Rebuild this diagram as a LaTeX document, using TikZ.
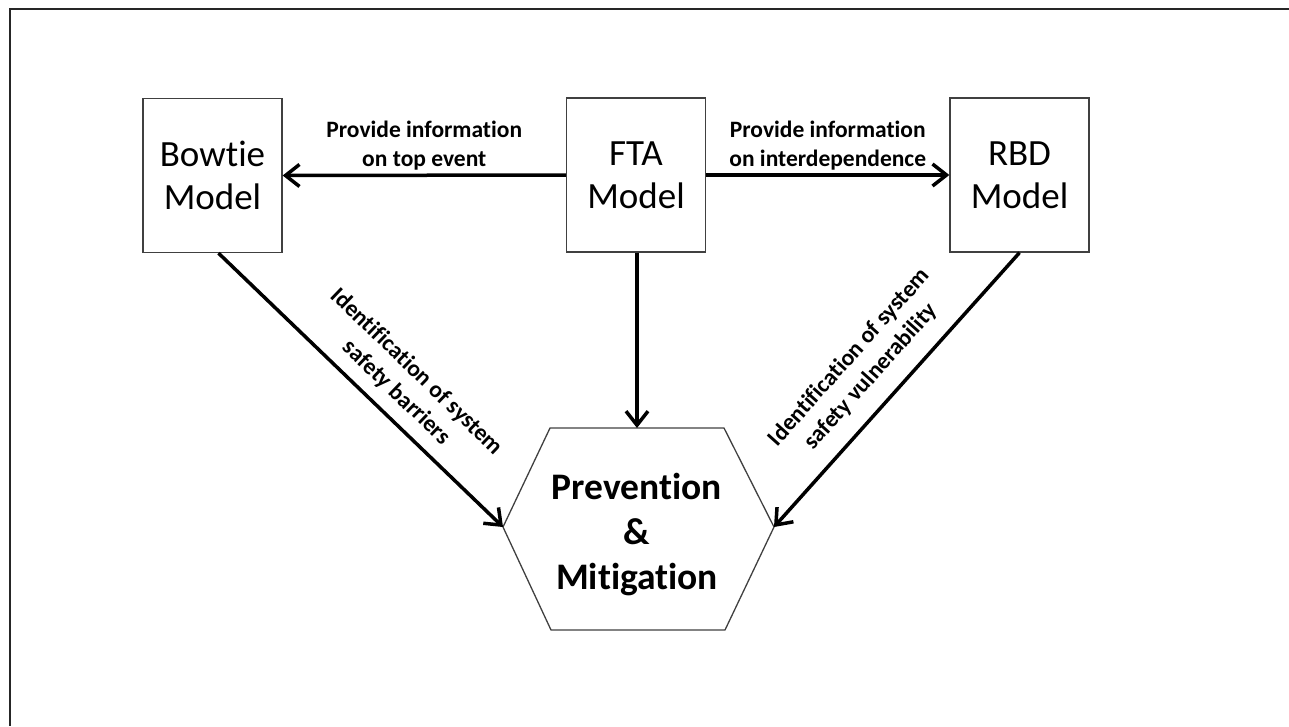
\documentclass[tikz,border=0pt]{standalone}
\usepackage{fontspec}
\setmainfont{Carlito}[Ligatures=CommonOff]
\usetikzlibrary{arrows.meta,calc}

\begin{document}
\begin{tikzpicture}[x=1pt,y=-1pt,
  model/.style={draw=black!75, line width=1.3pt, minimum width=139pt,
    minimum height=154pt, align=center, inner sep=0pt,
    font=\fontsize{37}{43}\selectfont},
  flow/.style={line width=3.5pt, -{Straight Barb[length=14pt,width=22pt]}},
  lbl/.style={font=\bfseries\fontsize{23.5}{29}\selectfont, align=center,
    inner sep=0pt},
  hexline/.style={draw=black!75, line width=1.3pt}
]
\useasboundingbox (0,0) rectangle (1289,726);

% frame (top and left edges)
\draw[line width=2.2pt, black!85] (1289,9) -- (10,9) -- (10,726);

% the three models
\node[model] (bowtie) at (212.5,175.5) {Bowtie\\Model};
\node[model] (fta)    at (636,175)    {FTA\\Model};
\node[model] (rbd)    at (1019.5,175) {RBD\\Model};

% hexagon: prevention & mitigation
\coordinate (hexT)  at (637,428);
\coordinate (hexL)  at (503,527);
\coordinate (hexR)  at (774,527);
\draw[hexline] (550,428) -- (724,428) -- (hexR) -- (725,630) -- (551,630)
  -- (hexL) -- cycle;
\node[font=\bfseries\fontsize{37.5}{45}\selectfont, align=center, inner sep=0pt]
  (pm) at (637,535) {Prevention\\\&\\Mitigation};

% information flows between models
\draw[flow] (fta.west) -- (bowtie.east)
  node[lbl, midway, above=3pt] {Provide information\\on top event};
\draw[flow] (fta.east) -- (rbd.west)
  node[lbl, midway, above=3pt] {Provide information\\on interdependence};

% flows into prevention & mitigation
\draw[flow] (fta.south -| hexT) -- (hexT);
\draw[flow] ($(bowtie.south)+(6,0)$) -- (hexL)
  node[lbl, pos=0.57, sloped, above=11pt] {Identification of system\\safety barriers};
\draw[flow] (rbd.south) -- (hexR)
  node[lbl, pos=0.52, sloped, above=16pt] {Identification of system\\safety vulnerability};
\end{tikzpicture}
\end{document}
